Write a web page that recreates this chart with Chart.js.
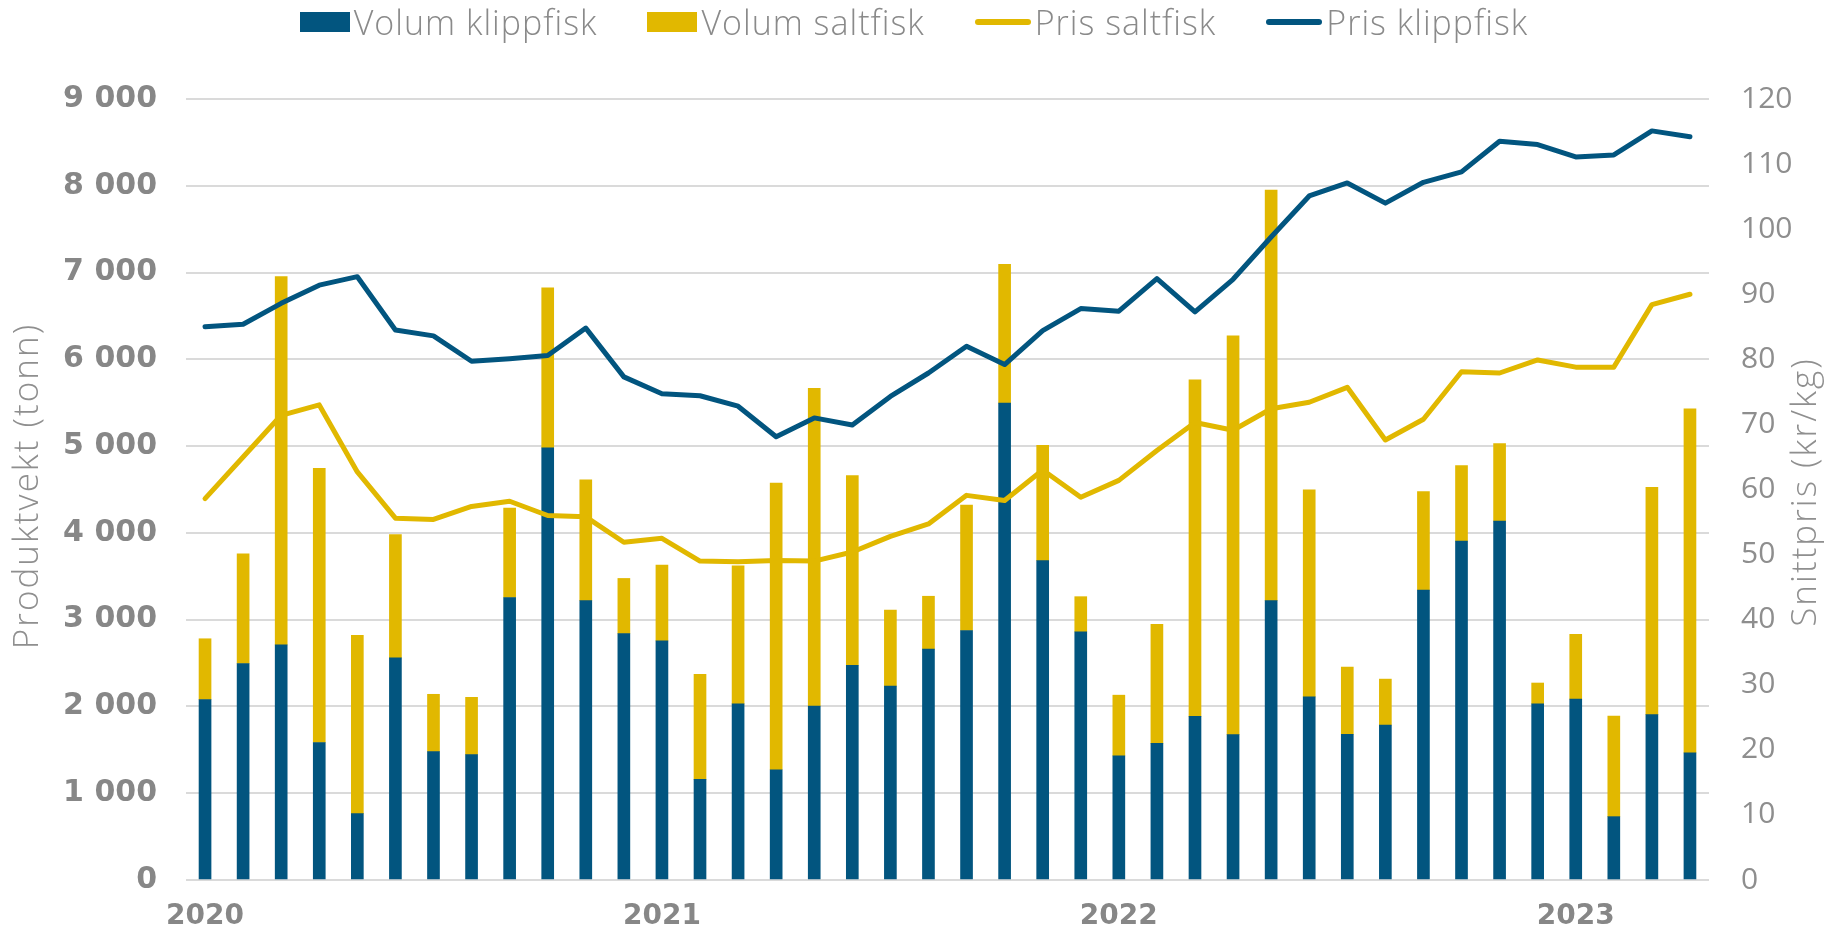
<!DOCTYPE html>
<html>
<head>
<meta charset="utf-8">
<title>Klippfisk og saltfisk</title>
<script src="https://cdn.jsdelivr.net/npm/chart.js@4.4.0/dist/chart.umd.min.js"></script>
<style>
  html, body { margin: 0; padding: 0; background: #fff; }
  #wrap { position: relative; width: 1828px; height: 936px; }
  #legend {
    position: absolute; top: 0; left: 0; width: 1828px; height: 44px;
    display: flex; justify-content: center; align-items: center;
    font-family: 'Open Sans', sans-serif; font-weight: 300; font-size: 34px;
    letter-spacing: 1px; color: #8a8a8a;
  }
  .item { display: flex; align-items: center; margin: 0 25px; }
  .sw { width: 50px; height: 20px; margin-right: 4px; }
  .ln { width: 56px; height: 6px; border-radius: 3px; margin-right: 4px; }
</style>
</head>
<body>
<div id="wrap">
  <div id="legend"></div>
  <canvas id="chart"></canvas>
</div>
<script>
// months jan 2020 - apr 2023
const labels = [
  "2020-01","2020-02","2020-03","2020-04","2020-05","2020-06","2020-07","2020-08","2020-09","2020-10","2020-11","2020-12",
  "2021-01","2021-02","2021-03","2021-04","2021-05","2021-06","2021-07","2021-08","2021-09","2021-10","2021-11","2021-12",
  "2022-01","2022-02","2022-03","2022-04","2022-05","2022-06","2022-07","2022-08","2022-09","2022-10","2022-11","2022-12",
  "2023-01","2023-02","2023-03","2023-04"
];

// tonn
const volumKlippfisk = [
  2080, 2495, 2710, 1585, 765, 2560, 1480, 1445, 3255, 4980, 3220, 2840,
  2755, 1160, 2030, 1270, 2005, 2475, 2235, 2660, 2875, 5495, 3680, 2860,
  1430, 1575, 1885, 1675, 3220, 2110, 1680, 1785, 3340, 3905, 4135, 2030,
  2085, 730, 1905, 1465
];
const volumSaltfisk = [
  700, 1265, 4245, 3160, 2055, 1420, 660, 660, 1030, 1845, 1390, 635,
  875, 1210, 1590, 3305, 3660, 2185, 875, 610, 1445, 1600, 1330, 405,
  700, 1370, 3880, 4595, 4730, 2385, 775, 530, 1135, 870, 895, 240,
  745, 1160, 2620, 3965
];

// kr/kg
const prisKlippfisk = [
  85.0, 85.4, 88.6, 91.4, 92.7, 84.5, 83.6, 79.7, 80.1, 80.6, 84.8, 77.3,
  74.7, 74.4, 72.8, 68.1, 71.0, 69.9, 74.3, 77.9, 82.0, 79.2, 84.4, 87.8,
  87.4, 92.4, 87.3, 92.3, 98.8, 105.1, 107.1, 104.0, 107.2, 108.8, 113.5, 113.0,
  111.1, 111.4, 115.1, 114.2
];
const prisSaltfisk = [
  58.6, 65.0, 71.4, 73.0, 62.7, 55.6, 55.4, 57.4, 58.2, 56.0, 55.8, 51.9,
  52.5, 49.0, 48.9, 49.1, 49.0, 50.4, 52.8, 54.7, 59.1, 58.3, 63.0, 58.8,
  61.4, 66.0, 70.3, 69.1, 72.4, 73.4, 75.7, 67.6, 70.8, 78.1, 77.9, 79.9,
  78.8, 78.8, 88.4, 90.0
];

const BLUE = "#02557f";
const YELLOW = "#e1b800";
const leftTitle = "Produktvekt (tonn)";
const rightTitle = "Snittpris (kr/kg)";

// legend (html)
const legendItems = [
  { text: "Volum klippfisk", color: BLUE, kind: "sw" },
  { text: "Volum saltfisk", color: YELLOW, kind: "sw" },
  { text: "Pris saltfisk", color: YELLOW, kind: "ln" },
  { text: "Pris klippfisk", color: BLUE, kind: "ln" }
];
const legendEl = document.getElementById("legend");
legendItems.forEach(it => {
  const d = document.createElement("div");
  d.className = "item";
  d.innerHTML = `<span class="${it.kind}" style="background:${it.color}"></span><span>${it.text}</span>`;
  legendEl.appendChild(d);
});

function spaced(v) {
  return String(v).replace(/\B(?=(\d{3})+(?!\d))/g, " ");
}

// rotated axis titles, both reading upwards
function drawTitle(ctx, text, x, y) {
  ctx.save();
  ctx.font = '300 35px "Open Sans"';
  ctx.letterSpacing = "2px";
  ctx.fillStyle = "#8f8f8f";
  ctx.textAlign = "center";
  ctx.textBaseline = "middle";
  ctx.translate(x, y);
  ctx.rotate(-Math.PI / 2);
  ctx.fillText(text, 0, 0);
  ctx.restore();
}
const axisTitles = {
  id: "axisTitles",
  afterDraw(chart) {
    drawTitle(chart.ctx, leftTitle, 28, 486);
    drawTitle(chart.ctx, rightTitle, 1806, 492);
  }
};

const ctx = document.getElementById("chart").getContext("2d");
new Chart(ctx, {
  data: {
    labels: labels,
    datasets: [
      {
        type: "line", label: "Pris klippfisk", data: prisKlippfisk, yAxisID: "y1",
        borderColor: BLUE, borderWidth: 5, pointRadius: 0, tension: 0,
        borderCapStyle: "round", borderJoinStyle: "round", order: 0
      },
      {
        type: "line", label: "Pris saltfisk", data: prisSaltfisk, yAxisID: "y1",
        borderColor: YELLOW, borderWidth: 5, pointRadius: 0, tension: 0,
        borderCapStyle: "round", borderJoinStyle: "round", order: 0
      },
      {
        type: "bar", label: "Volum klippfisk", data: volumKlippfisk, yAxisID: "y",
        backgroundColor: BLUE, barThickness: 12, stack: "vol", order: 1
      },
      {
        type: "bar", label: "Volum saltfisk", data: volumSaltfisk, yAxisID: "y",
        backgroundColor: YELLOW, barThickness: 12, stack: "vol", order: 1
      }
    ]
  },
  options: {
    responsive: true,
    maintainAspectRatio: false,
    animation: false,
    layout: { padding: { top: 99, left: 0, right: 0, bottom: 0 } },
    plugins: { legend: { display: false }, tooltip: { enabled: false } },
    scales: {
      x: {
        stacked: true,
        grid: { display: false, drawTicks: false },
        border: { display: false },
        ticks: {
          autoSkip: false, maxRotation: 0, padding: 20,
          color: "#878787",
          font: { family: "DejaVu Sans", weight: "bold", size: 28 },
          callback: function (v, i) {
            const l = labels[i];
            return l.endsWith("-01") ? l.slice(0, 4) : "";
          }
        },
        afterFit: s => { s.height = 56; }
      },
      y: {
        stacked: true, min: 0, max: 9000,
        grid: { color: "#dadada", lineWidth: 2, drawTicks: false },
        border: { display: false },
        ticks: {
          stepSize: 1000, padding: 29, color: "#878787",
          font: { family: "DejaVu Sans", weight: "bold", size: 30 },
          callback: v => spaced(v)
        },
        afterFit: s => { s.width = 186; }
      },
      y1: {
        position: "right", min: 0, max: 120,
        grid: { display: false, drawTicks: false },
        border: { display: false },
        ticks: {
          stepSize: 10, padding: 32, color: "#8e8e8e",
          font: { family: "Open Sans", size: 30 }
        },
        afterFit: s => { s.width = 119; }
      }
    }
  },
  plugins: [axisTitles]
});
</script>
</body>
</html>
